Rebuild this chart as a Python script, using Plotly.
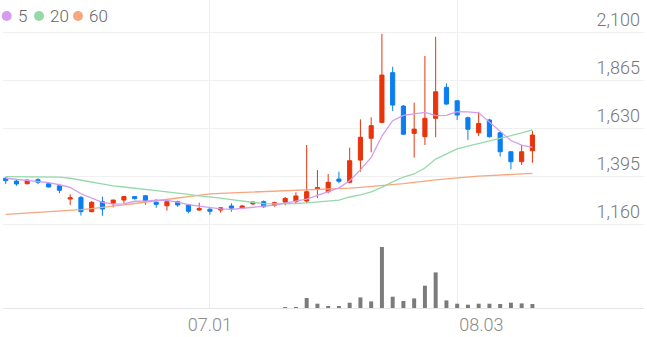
import plotly.graph_objects as go

dates = ["06.04", "06.05", "06.08", "06.09", "06.10", "06.11", "06.12", "06.15", "06.16", "06.17",
         "06.18", "06.19", "06.22", "06.23", "06.24", "06.25", "06.26", "06.29", "06.30",
         "07.01", "07.02", "07.03", "07.06", "07.07", "07.08", "07.09", "07.10", "07.13", "07.14",
         "07.15", "07.16", "07.17", "07.20", "07.21", "07.22", "07.23", "07.24", "07.27", "07.28",
         "07.29", "07.30", "07.31",
         "08.03", "08.04", "08.05", "08.06", "08.07", "08.10", "08.11", "08.12"]

open_ = [1386, 1372, 1359, 1379, 1359, 1349, 1284, 1292, 1222, 1271,
         1263, 1279, 1296, 1300, 1268, 1251, 1271, 1256, 1230, 1234,
         1230, 1250, 1240, 1260, 1271, 1253, 1269, 1271, 1274, 1332,
         1320, 1382, 1366, 1475, 1582, 1660, 1904, 1740, 1606, 1590,
         1680, 1832, 1766, 1683, 1609, 1672, 1609, 1516, 1467, 1521]
high = [1391, 1382, 1380, 1386, 1361, 1356, 1307, 1299, 1274, 1296,
        1281, 1298, 1298, 1304, 1284, 1273, 1276, 1258, 1266, 1243,
        1243, 1263, 1255, 1272, 1277, 1271, 1294, 1317, 1549, 1426,
        1407, 1418, 1536, 1675, 1685, 2094, 1933, 1745, 1757, 1986,
        2080, 1852, 1768, 1688, 1712, 1677, 1614, 1518, 1549, 1619]
low = [1358, 1349, 1356, 1357, 1341, 1313, 1255, 1203, 1219, 1202,
       1243, 1263, 1281, 1256, 1241, 1227, 1246, 1214, 1227, 1207,
       1217, 1222, 1235, 1255, 1241, 1246, 1253, 1260, 1263, 1288,
       1312, 1361, 1361, 1418, 1513, 1656, 1716, 1598, 1487, 1549,
       1587, 1745, 1672, 1574, 1593, 1585, 1492, 1430, 1451, 1462]
close = [1374, 1358, 1377, 1366, 1343, 1327, 1290, 1222, 1268, 1235,
         1279, 1296, 1286, 1276, 1258, 1271, 1255, 1224, 1237, 1224,
         1241, 1239, 1250, 1269, 1246, 1266, 1287, 1299, 1320, 1340,
         1366, 1371, 1472, 1587, 1644, 1892, 1745, 1602, 1627, 1680,
         1810, 1750, 1696, 1626, 1655, 1590, 1516, 1467, 1516, 1598]

ma5 = [1386, 1381, 1377, 1372, 1364, 1354, 1341, 1310, 1290, 1268,
       1259, 1260, 1273, 1274, 1279, 1277, 1269, 1257, 1249, 1242,
       1236, 1233, 1238, 1245, 1249, 1254, 1264, 1273, 1284, 1302,
       1322, 1339, 1374, 1427, 1488, 1593, 1668, 1694, 1702, 1709,
       1693, 1694, 1713, 1712, 1707, 1663, 1617, 1571, 1549, 1537]
ma20 = [1394, 1394, 1394, 1392, 1392, 1391, 1386, 1377, 1369, 1358,
        1348, 1343, 1338, 1332, 1325, 1319, 1314, 1307, 1300, 1295,
        1288, 1281, 1274, 1266, 1261, 1260, 1260, 1262, 1265, 1269,
        1274, 1279, 1294, 1304, 1319, 1341, 1368, 1392, 1407, 1436,
        1480, 1505, 1530, 1544, 1557, 1569, 1580, 1593, 1608, 1623]
ma60 = [1209, 1212, 1215, 1217, 1220, 1224, 1228, 1232, 1237, 1242,
        1248, 1255, 1262, 1268, 1275, 1282, 1289, 1296, 1303, 1309,
        1312, 1314, 1316, 1318, 1320, 1322, 1323, 1325, 1327, 1329,
        1331, 1333, 1337, 1341, 1345, 1350, 1355, 1360, 1366, 1373,
        1378, 1383, 1388, 1392, 1396, 1399, 1402, 1405, 1408, 1410]

volume = [0, 0, 0, 0, 0, 0, 0, 0, 0, 0,
          0, 0, 0, 0, 0, 0, 0, 0, 0, 0,
          0, 0, 0, 0, 0, 0, 6, 7, 1000, 430,
          130, 200, 530, 1060, 660, 6100, 1130, 700, 960, 2230,
          3560, 760, 430, 330, 430, 430, 400, 530, 460, 400]

price_ticks = [1160, 1395, 1630, 1865, 2100]
date_ticks = ["07.01", "08.03"]
legend_names = ["5", "20", "60"]

UP = "#e8340c"
DOWN = "#0b7ff0"
C5, C20, C60 = "#d49cf0", "#94daa9", "#f7a67e"

W, H = 647, 337
ML, MR, MT, MB = 3, 3, 0, 29
PW, PH = W - ML - MR, H - MT - MB

fig = go.Figure()
fig.add_trace(go.Bar(x=dates, y=volume, yaxis="y2", width=0.37,
                     marker=dict(color="#7b7b7b", line=dict(width=0)), hoverinfo="skip"))
fig.add_trace(go.Scatter(x=dates, y=ma60, mode="lines", line=dict(color=C60, width=1.3), hoverinfo="skip"))
fig.add_trace(go.Scatter(x=dates, y=ma20, mode="lines", line=dict(color=C20, width=1.3), hoverinfo="skip"))
fig.add_trace(go.Scatter(x=dates, y=ma5, mode="lines", line=dict(color=C5, width=1.3), hoverinfo="skip"))
fig.add_trace(go.Candlestick(
    x=dates, open=open_, high=high, low=low, close=close,
    increasing=dict(line=dict(color=UP, width=1), fillcolor=UP),
    decreasing=dict(line=dict(color=DOWN, width=1), fillcolor=DOWN),
    whiskerwidth=0))

shapes = []
annotations = []
legend_colors = [C5, C20, C60]
circle_x = [6.7, 39, 78]
text_x = [16, 48, 87]
for name, col, cx, tx in zip(legend_names, legend_colors, circle_x, text_x):
    shapes.append(dict(type="circle", xref="paper", yref="paper",
                       xsizemode="pixel", ysizemode="pixel",
                       xanchor=(cx - ML) / PW, yanchor=1 - 16 / PH,
                       x0=-5, x1=5, y0=-5, y1=5,
                       fillcolor=col, line=dict(width=0)))
    annotations.append(dict(text=name, xref="paper", yref="paper",
                            x=(tx - ML) / PW, y=1 - 15.5 / PH,
                            xanchor="left", yanchor="middle", showarrow=False,
                            font=dict(family="Roboto", size=17, color="#666666", weight=300)))

NB = "\u00a0"
date_text = [date_ticks[0], NB * 11 + date_ticks[1]]

fig.update_layout(
    width=W, height=H,
    margin=dict(l=ML, r=MR, t=MT, b=MB),
    paper_bgcolor="white", plot_bgcolor="white",
    showlegend=False, boxgap=0.45,
    shapes=shapes, annotations=annotations,
    xaxis=dict(type="category", range=[-0.25, 59.38],
               tickvals=date_ticks, ticktext=date_text,
               showgrid=True, gridcolor="#eeeeee", gridwidth=1,
               showline=True, linecolor="#e6e6e6", linewidth=1,
               ticks="", rangeslider=dict(visible=False), zeroline=False,
               tickfont=dict(family="Roboto", size=18, color="#8a8a8a", weight=300)),
    yaxis=dict(range=[749.4, 2260.4], side="right", tickvals=price_ticks,
               tickformat=",", ticklabelposition="inside", ticklabelshift=-13,
               ticklabelstandoff=1,
               showgrid=True, gridcolor="#f0f0f0", gridwidth=1, zeroline=False,
               ticks="", showline=False,
               tickfont=dict(family="Roboto", size=18, color="#777777", weight=300)),
    yaxis2=dict(range=[0, 30800], overlaying="y", visible=False, fixedrange=True),
)

fig.write_html("out.html")
